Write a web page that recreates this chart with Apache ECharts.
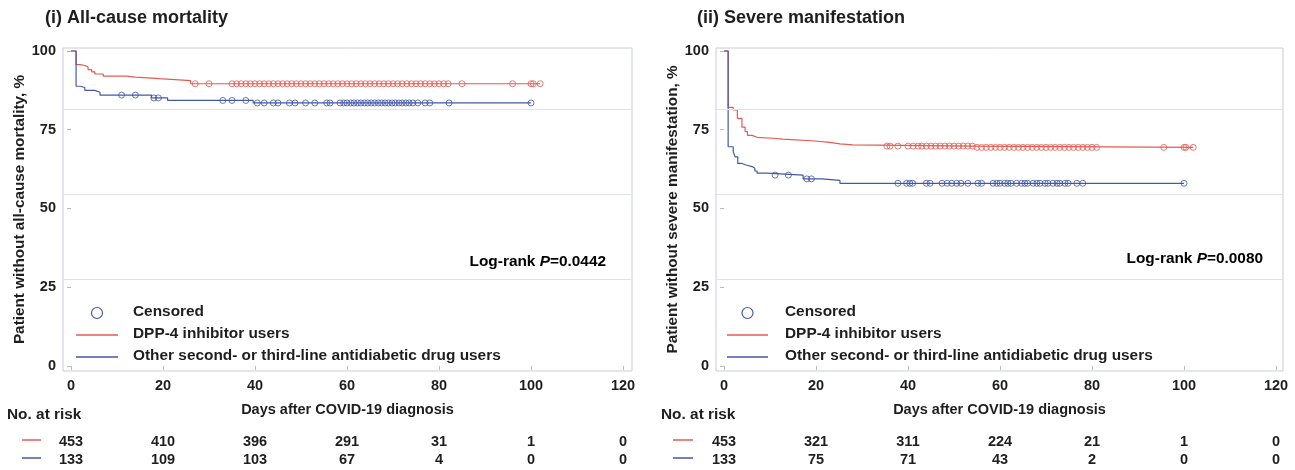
<!DOCTYPE html>
<html>
<head>
<meta charset="utf-8">
<script src="https://cdn.jsdelivr.net/npm/echarts@6/dist/echarts.min.js"></script>
<style>
html,body{margin:0;padding:0;background:#fff;}
#chart{width:1295px;height:470px;}
</style>
</head>
<body>
<div id="chart"></div>
<script>
// ---------- DATA ----------
const xTicks = [0, 20, 40, 60, 80, 100, 120];
const yTicks = [0, 25, 50, 75, 100];

// (i) All-cause mortality
const mortDppTime = [0, 1.1, 2, 3, 3.7, 4.5, 5.2, 7, 12, 14, 19.2, 26, 102];
const mortDppSurv = [100, 95.7, 95.4, 94.9, 94.1, 93.4, 92.7, 92.0, 91.7, 91.2, 90.6, 89.6, 89.6];
const mortOthTime = [0, 1.1, 2, 3, 5.2, 6.3, 17.5, 21, 39.6, 100];
const mortOthSurv = [100, 88.8, 88.4, 87.5, 86.9, 86.0, 85.1, 84.3, 83.5, 83.5];
const mortDppCens = [27, 30, 35, 36, 37, 38, 39, 40, 41, 42, 43, 44, 45, 46, 47, 48, 49, 50, 51, 52, 53, 54, 55, 56, 57, 58, 59, 60, 61, 62, 63, 64, 65, 66, 67, 68, 69, 70, 71, 72, 73, 74, 75, 76, 77, 78, 79, 80, 81, 82, 85, 96, 100, 100.5, 102];
const mortOthCens = [11, 14, 18, 19, 33, 35, 38, 40.5, 42, 44, 45, 47.5, 48.7, 51, 53, 55.6, 56.3, 58.5, 59.3, 60, 60.8, 61.5, 62.3, 63, 63.8, 64.5, 65.3, 66, 66.8, 67.5, 68.3, 69, 69.8, 70.5, 71.3, 72, 72.8, 73.5, 74.3, 75.4, 77, 78, 82.2, 100];
const mortAtRiskDpp = [453, 410, 396, 291, 31, 1, 0];
const mortAtRiskOth = [133, 109, 103, 67, 4, 0, 0];

// (ii) Severe manifestation
const sevDppTime = [0, 0.9, 2, 2.9, 3.9, 4.6, 5.1, 6.1, 7.2, 10.7, 12.8, 19.1, 23, 25.2, 28, 54.6, 102];
const sevDppSurv = [100, 82.1, 81.3, 78.6, 75.8, 74.4, 73.2, 72.6, 72.3, 72.0, 71.5, 71.0, 70.5, 70.2, 69.8, 69.4, 69.4];
const sevOthTime = [0, 0.9, 2, 2.4, 3.0, 3.9, 4.8, 6.1, 6.7, 7.2, 9.3, 17.2, 21.3, 25.2, 100];
const sevOthSurv = [100, 69.6, 68.0, 66.4, 64.3, 63.8, 63.3, 62.8, 61.9, 61.2, 60.6, 59.4, 58.9, 58.0, 58.0];
const sevDppCens = [35.4, 36.1, 37.8, 40, 41.1, 42.2, 43, 44, 45, 46, 47, 48, 49, 50, 51, 52, 53, 54, 55, 56, 57, 58, 59, 60, 61, 62, 63, 64, 65, 66, 67, 68, 69, 70, 71, 72, 73, 74, 75, 76, 77, 78, 79, 80, 81, 95.6, 100, 100.4, 102];
const sevOthCens = [11.1, 14, 18, 19, 37.8, 39.7, 40.4, 41, 44, 44.8, 47.4, 48.5, 49.5, 50.6, 51.5, 53, 55.2, 56, 58.5, 59.3, 60, 61, 61.7, 62.4, 63.6, 64.7, 65.4, 66, 67.2, 68, 68.7, 69.8, 70.4, 71.5, 72.4, 73, 74.1, 74.8, 76.7, 78, 100];
const sevAtRiskDpp = [453, 321, 311, 224, 21, 1, 0];
const sevAtRiskOth = [133, 75, 71, 43, 2, 0, 0];

const refLines = [81.6, 54.6, 27.6];

// ---------- STYLE ----------
const FONT = '"Liberation Sans", Arial, sans-serif';
const RED = '#e35b52';
const BLUE = '#4458a8';
const TXT = '#1e1e1e';
const FRAME = '#c6ced6';

function survAt(times, surv, x) {
  let v = surv[0];
  for (let i = 0; i < times.length; i++) if (times[i] <= x) v = surv[i];
  return v;
}
function kmData(times, surv) { return times.map((t, i) => [t, surv[i]]); }
function censData(cens, times, surv) { return cens.map(c => [c, survAt(times, surv, c)]); }

const grids = [
  { left: 63, top: 48, width: 569, height: 323, xmin: -1.74, xmax: 121.96 },
  { left: 716, top: 48, width: 567, height: 323, xmin: -1.74, xmax: 121.52 }
];
const panels = [
  { yName: 'Patient without all-cause mortality, %',
    dppT: mortDppTime, dppS: mortDppSurv, othT: mortOthTime, othS: mortOthSurv,
    dppC: mortDppCens, othC: mortOthCens, riskD: mortAtRiskDpp, riskO: mortAtRiskOth },
  { yName: 'Patient without severe manifestation, %',
    dppT: sevDppTime, dppS: sevDppSurv, othT: sevOthTime, othS: sevOthSurv,
    dppC: sevDppCens, othC: sevOthCens, riskD: sevAtRiskDpp, riskO: sevAtRiskOth }
];

const xAxes = [], yAxes = [], series = [];
grids.forEach((g, gi) => {
  const p = panels[gi];
  const base = xAxes.length;
  xAxes.push({
    gridIndex: gi, type: 'value', min: g.xmin, max: g.xmax,
    axisLine: { show: false }, splitLine: { show: false },
    axisTick: { show: true, length: 4, customValues: xTicks, lineStyle: { color: '#b4bec8' } },
    axisLabel: { customValues: xTicks, margin: 7, fontFamily: FONT, fontSize: 14.5, fontWeight: 'bold', color: TXT },
    name: 'Days after COVID-19 diagnosis', nameLocation: 'middle', nameGap: 31,
    nameTextStyle: { fontFamily: FONT, fontSize: 14.5, fontWeight: 'bold', color: TXT }
  });
  [[p.riskD, 63], [p.riskO, 81]].forEach(([arr, off]) => {
    xAxes.push({
      gridIndex: gi, type: 'value', position: 'bottom', offset: off, min: g.xmin, max: g.xmax,
      axisLine: { show: false }, axisTick: { show: false }, splitLine: { show: false },
      axisLabel: { customValues: xTicks, margin: 0, fontFamily: FONT, fontSize: 14.5, fontWeight: 'bold', color: TXT,
        formatter: v => String(arr[xTicks.indexOf(v)]) }
    });
  });
  yAxes.push({
    gridIndex: gi, type: 'value', min: -1.59, max: 100.95,
    axisLine: { show: false }, splitLine: { show: false },
    axisTick: { show: true, length: 4, customValues: yTicks, lineStyle: { color: '#b4bec8' } },
    axisLabel: { customValues: yTicks, margin: 7, fontFamily: FONT, fontSize: 14.5, fontWeight: 'bold', color: TXT },
    name: p.yName, nameLocation: 'middle', nameRotate: 90, nameGap: 36,
    nameTextStyle: { fontFamily: FONT, fontSize: 15.3, fontWeight: 'bold', color: TXT }
  });
  series.push({
    type: 'line', xAxisIndex: base, yAxisIndex: gi, step: 'end', symbol: 'none',
    data: kmData(p.dppT, p.dppS), lineStyle: { color: RED, width: 1.2 }, z: 3, silent: true,
    markLine: { silent: true, symbol: 'none', label: { show: false },
      lineStyle: { color: '#dfe3e7', width: 1.2, type: 'solid' },
      data: refLines.map(v => ({ yAxis: v })) }
  });
  series.push({
    type: 'line', xAxisIndex: base, yAxisIndex: gi, step: 'end', symbol: 'none',
    data: kmData(p.othT, p.othS), lineStyle: { color: BLUE, width: 1.2 }, z: 3, silent: true
  });
  series.push({
    type: 'scatter', xAxisIndex: base, yAxisIndex: gi, symbol: 'circle', symbolSize: 6,
    data: censData(p.dppC, p.dppT, p.dppS), z: 4,
    itemStyle: { color: 'rgba(255,255,255,0)', borderColor: RED, borderWidth: 1 }
  });
  series.push({
    type: 'scatter', xAxisIndex: base, yAxisIndex: gi, symbol: 'circle', symbolSize: 6,
    data: censData(p.othC, p.othT, p.othS), z: 4,
    itemStyle: { color: 'rgba(255,255,255,0)', borderColor: BLUE, borderWidth: 1 }
  });
});

function txt(x, y, text, opts) {
  return Object.assign({ type: 'text', x: x, y: y, z: 10,
    style: Object.assign({ text: text, font: 'bold 15.4px ' + FONT, fill: TXT, textVerticalAlign: 'middle' }, opts || {}) });
}
function seg(x1, x2, y, color) {
  return { type: 'line', z: 10, shape: { x1: x1, y1: y, x2: x2, y2: y }, style: { stroke: color, lineWidth: 1.5 } };
}
const graphics = [];
[[0, 76, 118, 133, 606, 262, 7, 22, 41, '0.0442'], [1, 727, 768, 785, 1263, 259, 661, 673, 693, '0.0080']].forEach(a => {
  const [gi, lx1, lx2, tx, px, py, nx, mx1, mx2, pv] = a;
  graphics.push({ type: 'circle', z: 10, shape: { cx: (lx1 + lx2) / 2, cy: 313, r: 5.5 }, style: { fill: 'none', stroke: BLUE, lineWidth: 1.2 } });
  graphics.push(txt(tx, 312, 'Censored'));
  graphics.push(seg(lx1, lx2, 335, RED));
  graphics.push(txt(tx, 334, 'DPP-4 inhibitor users'));
  graphics.push(seg(lx1, lx2, 357, BLUE));
  graphics.push(txt(tx, 356, 'Other second- or third-line antidiabetic drug users'));
  graphics.push({ type: 'text', x: px, y: py, z: 10, style: {
    text: '{a|Log-rank }{b|P}{a|=' + pv + '}', textAlign: 'right', textVerticalAlign: 'middle',
    rich: { a: { fontFamily: FONT, fontSize: 15.4, fontWeight: 'bold', color: TXT },
            b: { fontFamily: FONT, fontSize: 15.4, fontWeight: 'bold', fontStyle: 'italic', color: TXT } } } });
  graphics.push(txt(nx, 415, 'No. at risk'));
  graphics.push(seg(mx1, mx2, 440, RED));
  graphics.push(seg(mx1, mx2, 458, BLUE));
});
graphics.push(txt(45, 18, '(i) All-cause mortality', { font: 'bold 18px ' + FONT }));
graphics.push(txt(697, 18, '(ii) Severe manifestation', { font: 'bold 18px ' + FONT }));

const chart = echarts.init(document.getElementById('chart'), null, { renderer: 'canvas' });
chart.setOption({
  backgroundColor: '#ffffff',
  animation: false,
  grid: grids.map(g => ({ left: g.left, top: g.top, width: g.width, height: g.height, show: true,
    borderColor: FRAME, borderWidth: 1, backgroundColor: 'rgba(0,0,0,0)', containLabel: false })),
  xAxis: xAxes,
  yAxis: yAxes,
  series: series,
  graphic: graphics
});
</script>
</body>
</html>
